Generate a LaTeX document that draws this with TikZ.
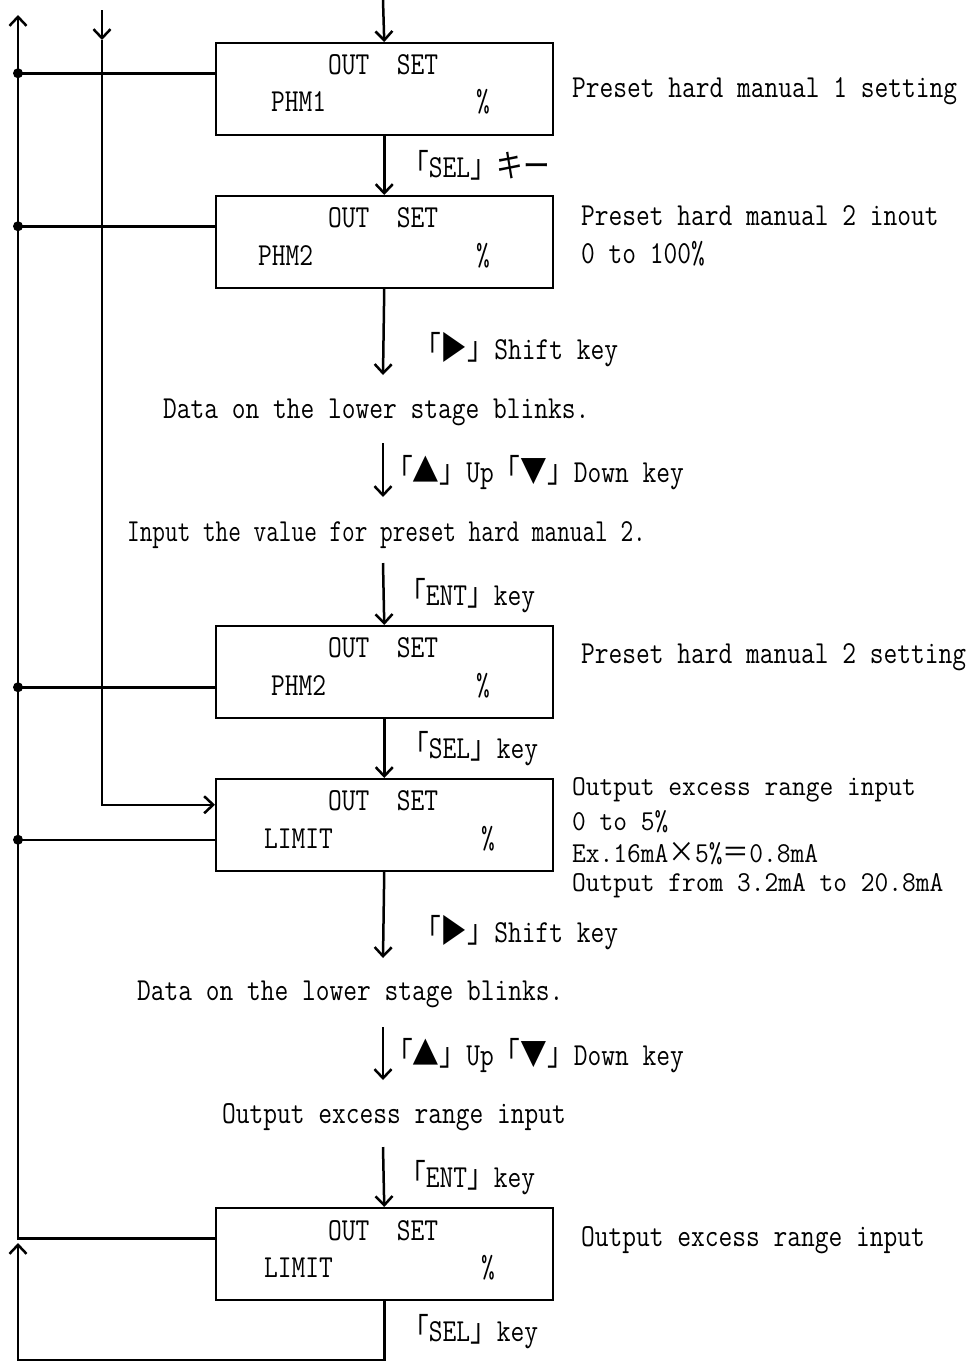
\documentclass[tikz,border=0pt]{standalone}
\usepackage{fontspec}
\newfontfamily\cjk{Noto Sans CJK JP}
\usetikzlibrary{arrows.meta}
\newcommand{\kb}[1]{{\cjk 「}#1{\cjk 」}}
\newcommand{\tri}[1]{{\cjk\smash{#1}}}

\begin{document}
\begin{tikzpicture}[x=1pt, y=-1pt,
    box/.style={draw, line width=1.5pt, minimum width=337pt, minimum height=92pt, inner sep=0pt, anchor=north west},
    txt/.style={font=\ttfamily\fontsize{26.7}{30}\selectfont, inner sep=0pt, yscale=1.2, anchor=west},
    tight/.style={txt, yscale=0.9},
    flow/.style={line width=2.5pt},
    arr/.style={flow, -{Straight Barb[length=9pt, width=17pt]}},
    dot/.style={circle, fill, inner sep=0pt, minimum size=10pt}]
    \useasboundingbox (0,0) rectangle (977,1361);
    % display boxes
    \node[box] (b1) at (215,42)   {};
    \node[box] (b2) at (215,195)  {};
    \node[box] (b3) at (215,625)  {};
    \node[box] (b4) at (215,778)  {};
    \node[box] (b5) at (215,1207) {};
    \node[txt, anchor=center] (b1a) at (383,65)   {OUT~~SET};
    \node[txt] (b1b) at (271,102) {PHM1};
    \node[txt, anchor=center] (b1c) at (483,102) {\%};
    \node[txt, anchor=center] (b2a) at (383,218)  {OUT~~SET};
    \node[txt] (b2b) at (258,256) {PHM2};
    \node[txt, anchor=center] (b2c) at (483,256) {\%};
    \node[txt, anchor=center] (b3a) at (383,648)  {OUT~~SET};
    \node[txt] (b3b) at (271,686) {PHM2};
    \node[txt, anchor=center] (b3c) at (483,686) {\%};
    \node[txt, anchor=center] (b4a) at (383,801)  {OUT~~SET};
    \node[txt] (b4b) at (264,839) {LIMIT};
    \node[txt, anchor=center] (b4c) at (488,839) {\%};
    \node[txt, anchor=center] (b5a) at (383,1231) {OUT~~SET};
    \node[txt] (b5b) at (264,1268) {LIMIT};
    \node[txt, anchor=center] (b5c) at (488,1268) {\%};
    % notes on the right
    \node[txt] (n1) at (572,91)   {Preset hard manual 1 setting};
    \node[txt] (n2) at (581,216)  {Preset hard manual 2 inout};
    \node[txt] (n3) at (581,254)  {0 to 100\%};
    \node[txt] (n4) at (581,657)  {Preset hard manual 2 setting};
    \node[tight] (n5) at (572,790)  {Output excess range input};
    \node[tight] (n6) at (572,822)  {0 to 5\%};
    \node[tight] (n7) at (572,854)  {Ex.16mA\tri{×}5\%\tri{＝}0.8mA};
    \node[tight] (n8) at (572,886)  {Output from 3.2mA to 20.8mA};
    \node[txt] (n9) at (581,1240) {Output excess range input};
    % steps between the boxes
    \node[txt] (s1) at (163,412)  {Data on the lower stage blinks.};
    \node[txt, xscale=0.92] (s2) at (127,535) {Input the value for preset hard manual 2.};
    \node[txt] (s3) at (137,994)  {Data on the lower stage blinks.};
    \node[txt] (s4) at (222,1117) {Output excess range input};
    % key labels
    \node[txt] (k1) at (402,165)  {\kb{SEL}\tri{キー}};
    \node[txt] (k2) at (414,350)  {\kb{\tri{▶}}Shift key};
    \node[txt] (k3) at (386,473)  {\kb{\tri{▲}}Up\kb{\tri{▼}}Down key};
    \node[txt] (k4) at (399,596)  {\kb{ENT}key};
    \node[txt] (k5) at (402,749)  {\kb{SEL}key};
    \node[txt] (k6) at (414,933)  {\kb{\tri{▶}}Shift key};
    \node[txt] (k7) at (386,1056) {\kb{\tri{▲}}Up\kb{\tri{▼}}Down key};
    \node[txt] (k8) at (399,1178) {\kb{ENT}key};
    \node[txt] (k9) at (402,1332) {\kb{SEL}key};
    % free ends of the arrows
    \coordinate (c0) at (383,0);
    \coordinate (c1) at (383,375);
    \coordinate (c2) at (383,443);
    \coordinate (c3) at (383,497);
    \coordinate (c4) at (383,563);
    \coordinate (c5) at (383,958);
    \coordinate (c6) at (383,1027);
    \coordinate (c7) at (383,1080);
    \coordinate (c8) at (383,1147);
    \coordinate (top) at (18,15);
    \coordinate (bot) at (18,1243);
    \coordinate (skipA) at (102,10);
    \coordinate (skipB) at (102,40);
    \coordinate (r1) at ([yshift=15.5pt]b1.west);
    \coordinate (r2) at ([yshift=15.5pt]b2.west);
    \coordinate (r3) at ([yshift=-15.5pt]b3.west);
    \coordinate (r4) at ([yshift=-15pt]b4.west);
    \coordinate (r5) at ([yshift=15.5pt]b5.west);
    \coordinate (in4) at ([yshift=20pt]b4.west);
    % main flow
    \draw[arr] (c0) -- (b1.north);
    \draw[arr] (b1.south) -- (b2.north);
    \draw[arr] (b2.south) -- (c1);
    \draw[arr] (c2) -- (c3);
    \draw[arr] (c4) -- (b3.north);
    \draw[arr] (b3.south) -- (b4.north);
    \draw[arr] (b4.south) -- (c5);
    \draw[arr] (c6) -- (c7);
    \draw[arr] (c8) -- (b5.north);
    \draw[arr] (b5.south) -- ++(0,60) -| (bot);
    % return line on the left
    \draw[arr] (r5) -| (top);
    \draw[flow] (r1) -- (r1 -| top) node[dot] {};
    \draw[flow] (r2) -- (r2 -| top) node[dot] {};
    \draw[flow] (r3) -- (r3 -| top) node[dot] {};
    \draw[flow] (r4) -- (r4 -| top) node[dot] {};
    % skip line into LIMIT
    \draw[arr] (skipA) -- (skipB);
    \draw[arr] (skipB) |- (in4);
\end{tikzpicture}
\end{document}
